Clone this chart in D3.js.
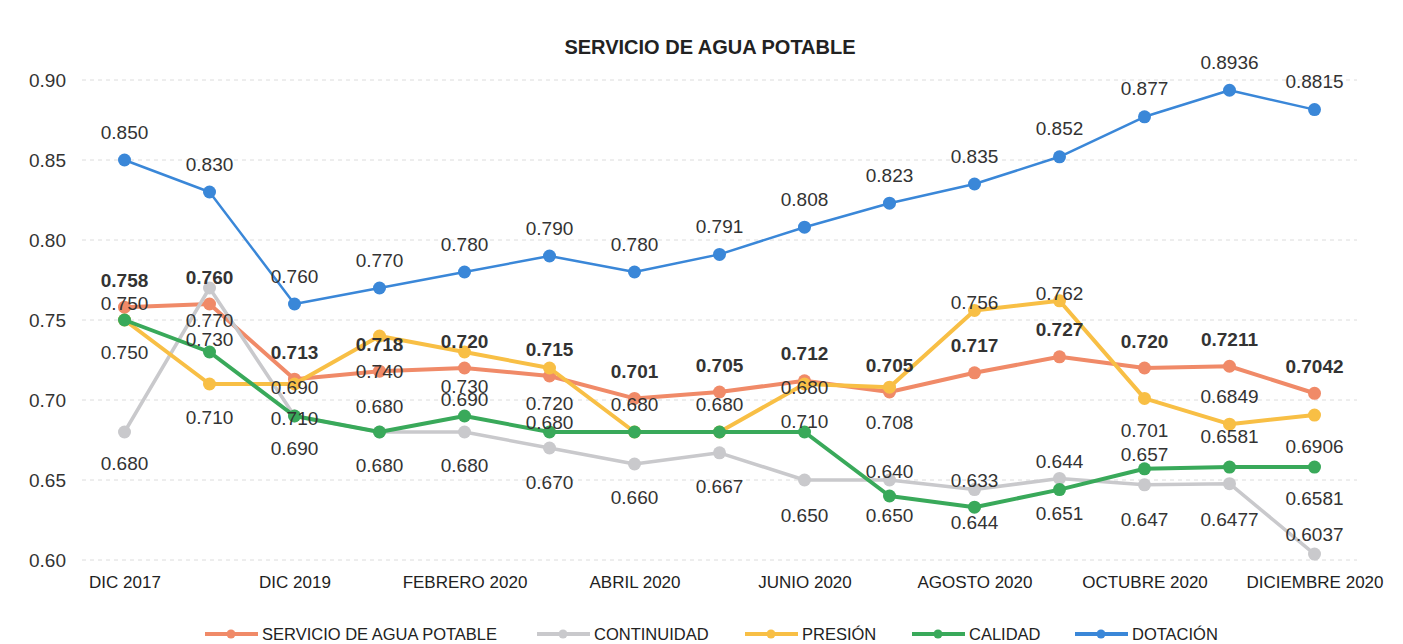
<!DOCTYPE html>
<html><head><meta charset="utf-8">
<script src="https://cdn.jsdelivr.net/npm/d3@7"></script>
<style>body{margin:0;background:#fff}text{font-family:"Liberation Sans",Arial,sans-serif}</style>
</head><body><svg id="c" width="1403" height="644"></svg>
<script>
// ---------- DATA ----------
const categories = ["DIC 2017","DIC 2018","DIC 2019","ENERO 2020","FEBRERO 2020","MARZO 2020","ABRIL 2020","MAYO 2020","JUNIO 2020","JULIO 2020","AGOSTO 2020","SEPTIEMBRE 2020","OCTUBRE 2020","NOVIEMBRE 2020","DICIEMBRE 2020"];
const tickLabels = ["DIC 2017","DIC 2019","FEBRERO 2020","ABRIL 2020","JUNIO 2020","AGOSTO 2020","OCTUBRE 2020","DICIEMBRE 2020"];
const yTicks = [0.60,0.65,0.70,0.75,0.80,0.85,0.90];
const seriesNames = ["SERVICIO DE AGUA POTABLE","CONTINUIDAD","PRESIÓN","CALIDAD","DOTACIÓN"];

const servicio    = [0.758,0.760,0.713,0.718,0.720,0.715,0.701,0.705,0.712,0.705,0.717,0.727,0.720,0.7211,0.7042];
const continuidad = [0.680,0.770,0.690,0.680,0.680,0.670,0.660,0.667,0.650,0.650,0.644,0.651,0.647,0.6477,0.6037];
const presion     = [0.750,0.710,0.710,0.740,0.730,0.720,0.680,0.680,0.710,0.708,0.756,0.762,0.701,0.6849,0.6906];
const calidad     = [0.750,0.730,0.690,0.680,0.690,0.680,0.680,0.680,0.680,0.640,0.633,0.644,0.657,0.6581,0.6581];
const dotacion    = [0.850,0.830,0.760,0.770,0.780,0.790,0.780,0.791,0.808,0.823,0.835,0.852,0.877,0.8936,0.8815];

// data label texts as printed on the chart
const servicioLabels    = ["0.758","0.760","0.713","0.718","0.720","0.715","0.701","0.705","0.712","0.705","0.717","0.727","0.720","0.7211","0.7042"];
const continuidadLabels = ["0.680","0.770","0.690","0.680","0.680","0.670","0.660","0.667","0.650","0.650","0.644","0.651","0.647","0.6477","0.6037"];
const presionLabels     = ["0.750","0.710","0.710","0.740","0.730","0.720","","","0.710","0.708","0.756","0.762","0.701","0.6849","0.6906"];
const calidadLabels     = ["0.750","0.730","0.690","0.680","0.690","0.680","0.680","0.680","0.680","0.640","0.633","0.644","0.657","0.6581","0.6581"];
const dotacionLabels    = ["0.850","0.830","0.760","0.770","0.780","0.790","0.780","0.791","0.808","0.823","0.835","0.852","0.877","0.8936","0.8815"];

// ---------- LAYOUT (label nudges, px) ----------
const labelDy = {
  servicio:    Array(15).fill(-27),
  continuidad: [31,32,32,33,33,34,33,34,35,35,33,35,35,36,-20],
  presion:     [32,33,34,35,34,35,0,0,37,35,-8,-7,32,-28,31],
  calidad:     [-17,-13,-29,-26,-17,-10,-28,-28,-45,-25,-27,-28,-14,-31,31],
  dotacion:    Array(15).fill(-28)
};

const series = [
  {key:"servicio", name:seriesNames[0], values:servicio, labels:servicioLabels, color:"#f08a68", width:4, bold:true},
  {key:"continuidad", name:seriesNames[1], values:continuidad, labels:continuidadLabels, color:"#c9c9cc", width:3.5, bold:false},
  {key:"presion", name:seriesNames[2], values:presion, labels:presionLabels, color:"#f8bf45", width:4, bold:false},
  {key:"calidad", name:seriesNames[3], values:calidad, labels:calidadLabels, color:"#39a95a", width:4, bold:false},
  {key:"dotacion", name:seriesNames[4], values:dotacion, labels:dotacionLabels, color:"#3a87d8", width:2.5, bold:false}
];

const svg = d3.select("#c");
const margin = {left:82, right:1357, top:80, bottom:560};

const x = d3.scalePoint().domain(categories).range([margin.left, margin.right]).padding(0.5);
const y = d3.scaleLinear().domain([0.60,0.90]).range([margin.bottom, margin.top]);

// title
svg.append("text").attr("x",710).attr("y",54).attr("text-anchor","middle")
  .attr("font-size",20).attr("font-weight","bold").attr("fill","#222").text("SERVICIO DE AGUA POTABLE");

// gridlines
svg.append("g").selectAll("line").data(yTicks).join("line")
  .attr("x1",margin.left).attr("x2",margin.right)
  .attr("y1",d=>y(d)).attr("y2",d=>y(d))
  .attr("stroke","#dcdcdc").attr("stroke-width",1).attr("stroke-dasharray","4,4");

// y axis
const yAxis = d3.axisLeft(y).tickValues(yTicks).tickFormat(d3.format(".2f")).tickSize(0).tickPadding(16);
const gy = svg.append("g").attr("transform",`translate(${margin.left},0)`).call(yAxis);
gy.select(".domain").remove();
gy.selectAll("text").attr("font-size",19).attr("fill","#333").style("font-family","Liberation Sans, Arial, sans-serif");

// x axis
const xAxis = d3.axisBottom(x).tickValues(categories.filter(c=>tickLabels.includes(c))).tickSize(0).tickPadding(16);
const gx = svg.append("g").attr("transform",`translate(0,${margin.bottom})`).call(xAxis);
gx.select(".domain").remove();
gx.selectAll("text").attr("font-size",17).attr("fill","#222").style("font-family","Liberation Sans, Arial, sans-serif");

// lines
const line = d3.line().x((d,i)=>x(categories[i])).y(d=>y(d));
series.forEach(s=>{
  const g = svg.append("g");
  g.append("path").datum(s.values).attr("d",line).attr("fill","none")
    .attr("stroke",s.color).attr("stroke-width",s.width).attr("stroke-linejoin","round");
  g.selectAll("circle").data(s.values).join("circle")
    .attr("cx",(d,i)=>x(categories[i])).attr("cy",d=>y(d)).attr("r",6.5).attr("fill",s.color);
});

// labels
series.forEach(s=>{
  svg.append("g").selectAll("text").data(s.values).join("text")
    .attr("x",(d,i)=>x(categories[i]))
    .attr("y",(d,i)=>y(d)+labelDy[s.key][i])
    .attr("dy","0.35em").attr("text-anchor","middle")
    .attr("font-size",19).attr("font-weight",s.bold?"bold":"normal").attr("fill","#333")
    .text((d,i)=>s.labels[i]);
});

// legend
const legendX = [205,537,745,912,1075];
const lg = svg.append("g");
series.forEach((s,i)=>{
  const gx0 = legendX[i];
  lg.append("line").attr("x1",gx0).attr("x2",gx0+53).attr("y1",634).attr("y2",634)
    .attr("stroke",s.color).attr("stroke-width",4);
  lg.append("circle").attr("cx",gx0+26).attr("cy",634).attr("r",4.5).attr("fill",s.color);
  lg.append("text").attr("x",gx0+57).attr("y",634).attr("dy","0.35em")
    .attr("font-size",16.5).attr("fill","#222").text(s.name);
});
</script></body></html>
